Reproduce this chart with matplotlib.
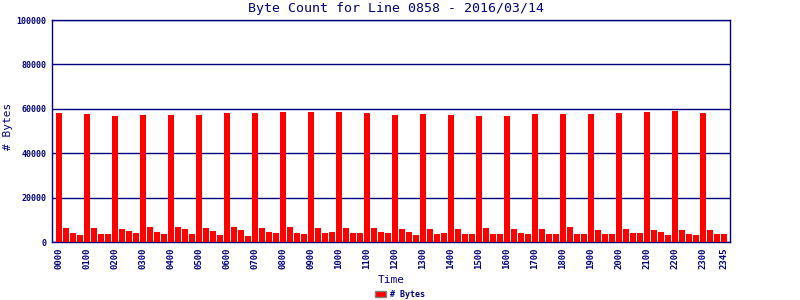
import matplotlib.pyplot as plt
from matplotlib.patches import Patch

# 15-minute byte counts for the day, 0000 .. 2345
times = [f"{h:02d}{m:02d}" for h in range(24) for m in (0, 15, 30, 45)]
byte_counts = [
    58330, 6460, 4200, 3300,   # 00
    57880, 6460, 3760, 3760,   # 01
    56980, 6010, 5110, 4200,   # 02
    57430, 6920, 4660, 3760,   # 03
    57430, 6920, 6010, 3760,   # 04
    57430, 6460, 5110, 3300,   # 05
    58330, 6920, 5560, 2860,   # 06
    58330, 6460, 4660, 4200,   # 07
    58780, 6920, 4200, 3760,   # 08
    58780, 6460, 4200, 4660,   # 09
    58780, 6460, 4200, 4200,   # 10
    58330, 6460, 4660, 4200,   # 11
    57430, 6010, 4660, 3300,   # 12
    57880, 6010, 3760, 4200,   # 13
    57430, 6010, 3760, 3760,   # 14
    56980, 6460, 3760, 3760,   # 15
    56980, 6010, 4200, 3760,   # 16
    57880, 6010, 3760, 3760,   # 17
    57880, 6920, 3760, 3760,   # 18
    57880, 5560, 3760, 3760,   # 19
    58330, 6010, 4200, 4200,   # 20
    58780, 5560, 4660, 3300,   # 21
    59230, 5560, 3760, 3300,   # 22
    58330, 5560, 3760, 3760,   # 23
]
y_ticks = [0, 20000, 40000, 60000, 80000, 100000]
tick_idx = list(range(0, 96, 4)) + [95]

NAVY = "#000080"
RED = "#ff0000"
plt.rcParams["font.family"] = "DejaVu Sans Mono"

fig = plt.figure(figsize=(8, 3), dpi=100)
ax = fig.add_axes([0.065, 0.193, 0.8475, 0.74])

x = list(range(len(times)))
ax.bar(x, byte_counts, width=0.86, color=RED, zorder=3)

ax.set_xlim(-1.0, 95.86)
ax.set_ylim(0, 100000)
ax.set_yticks(y_ticks)
ax.set_yticklabels([str(v) for v in y_ticks], fontsize=6, fontweight="bold", color=NAVY)
ax.set_xticks(tick_idx)
ax.set_xticklabels([times[i] for i in tick_idx], rotation=90, fontsize=6.5,
                   fontweight="bold", color=NAVY)
ax.tick_params(length=0, pad=4)
ax.yaxis.grid(True, color=NAVY, linewidth=1.0, zorder=1)
for s in ax.spines.values():
    s.set_color(NAVY)
    s.set_linewidth(1.0)

ax.set_xlabel("Time", fontsize=8, color=NAVY, labelpad=4)
ax.set_ylabel("# Bytes", fontsize=8, color=NAVY)
ax.yaxis.set_label_coords(-0.058, 0.52)
fig.text(0.495, 0.972, "Byte Count for Line 0858 - 2016/03/14",
         ha="center", va="center", fontsize=9.5, color=NAVY)

handle = Patch(facecolor=RED, edgecolor="#808080", linewidth=1.0, label="# Bytes")
leg = fig.legend(handles=[handle], loc="center", bbox_to_anchor=(0.5, 0.018),
                 frameon=False, fontsize=6, handlelength=1.3, handleheight=0.8,
                 handletextpad=0.4, borderpad=0)
for t in leg.get_texts():
    t.set_color(NAVY)
    t.set_fontweight("bold")

fig.savefig("out.png", dpi=100)
